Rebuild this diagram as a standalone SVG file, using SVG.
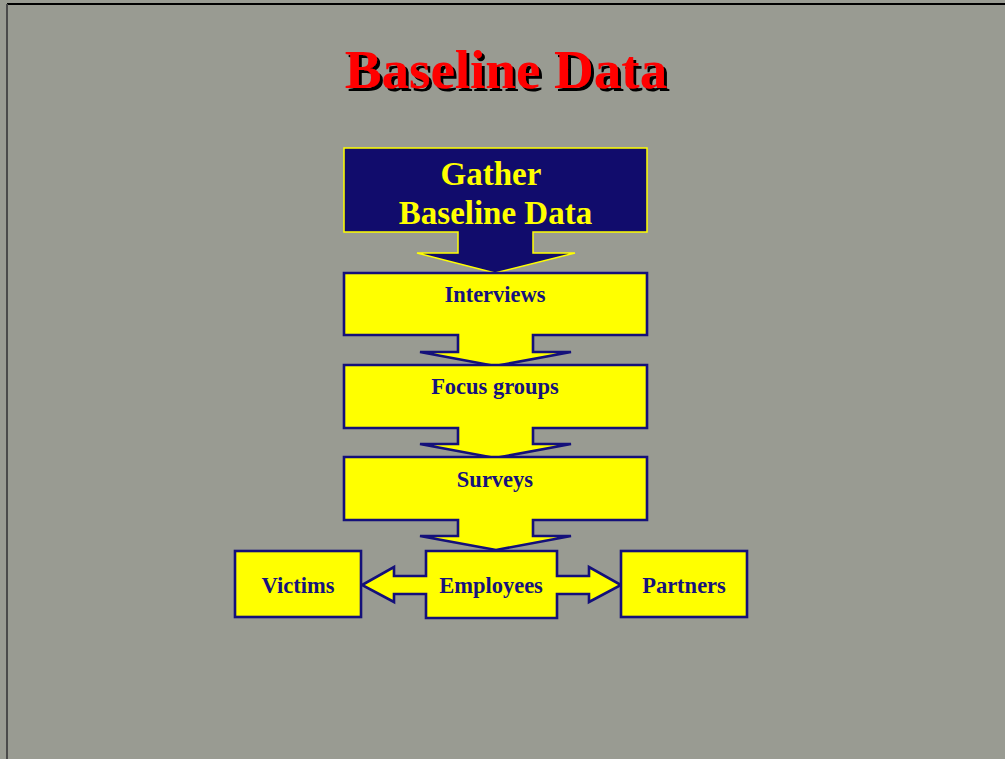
<svg xmlns="http://www.w3.org/2000/svg" width="1005" height="759" viewBox="0 0 1005 759">
<defs>
<filter id="shadow" x="-5%" y="-10%" width="115%" height="130%">
<feDropShadow dx="3" dy="3" stdDeviation="0" flood-color="#000" flood-opacity="1"/>
</filter>
</defs>
<style>
.bg{fill:#999b92}
.box{fill:#ffff00;stroke:#14107a;stroke-width:2.6;stroke-linejoin:miter}
.lbl{font-family:"Liberation Serif","Times New Roman",serif;font-weight:bold;font-size:22.5px;fill:#16127c;text-anchor:middle}
.big{font-family:"Liberation Serif","Times New Roman",serif;font-weight:bold;font-size:33px;fill:#ffff00;text-anchor:middle}
.title{font-family:"Liberation Serif","Times New Roman",serif;font-weight:bold;font-size:55px;text-anchor:middle;fill:#ff0000}
</style>
<rect class="bg" x="0" y="0" width="1005" height="759"/>
<line x1="7" y1="4" x2="1005" y2="4" stroke="#000" stroke-width="2"/>
<line x1="7" y1="4" x2="7" y2="759" stroke="#4a4a4a" stroke-width="2"/>
<g id="title">
<text class="title" x="506" y="88" filter="url(#shadow)">Baseline Data</text>
</g>
<g id="gather">
<path d="M344,148 H647 V232 H533 V253 H575 L495,273 L417,253 H458 V232 H344 Z" fill="#110c6c" stroke="#ffff00" stroke-width="1.5"/>
<text class="big" x="491" y="185">Gather</text>
<text class="big" x="495.5" y="224">Baseline Data</text>
</g>
<g id="interviews">
<path class="box" d="M344,273 H647 V335 H533 V352 H571 L495,366 L420,352 H458 V335 H344 Z"/>
<text class="lbl" x="495" y="302">Interviews</text>
</g>
<g id="focus">
<path class="box" d="M344,365 H647 V428 H533 V444 H571 L495,458 L420,444 H458 V428 H344 Z"/>
<text class="lbl" x="495" y="394">Focus groups</text>
</g>
<g id="surveys">
<path class="box" d="M344,457 H647 V520 H533 V536 H571 L496,550 L420,536 H458 V520 H344 Z"/>
<text class="lbl" x="495" y="487">Surveys</text>
</g>
<g id="connectors">
</g>
<g id="employees">
<path class="box" d="M426,551 H557 V576 H589 V567 L621,585 L589,602 V594 H557 V618 H426 V594 H394 V602 L362,585 L394,567 V576 H426 Z"/>
<text class="lbl" x="491" y="593">Employees</text>
</g>
<g id="victims">
<rect class="box" x="235" y="551" width="126" height="66"/>
<text class="lbl" x="298" y="593">Victims</text>
</g>
<g id="partners">
<rect class="box" x="621" y="551" width="126" height="66"/>
<text class="lbl" x="684" y="593">Partners</text>
</g>
</svg>
